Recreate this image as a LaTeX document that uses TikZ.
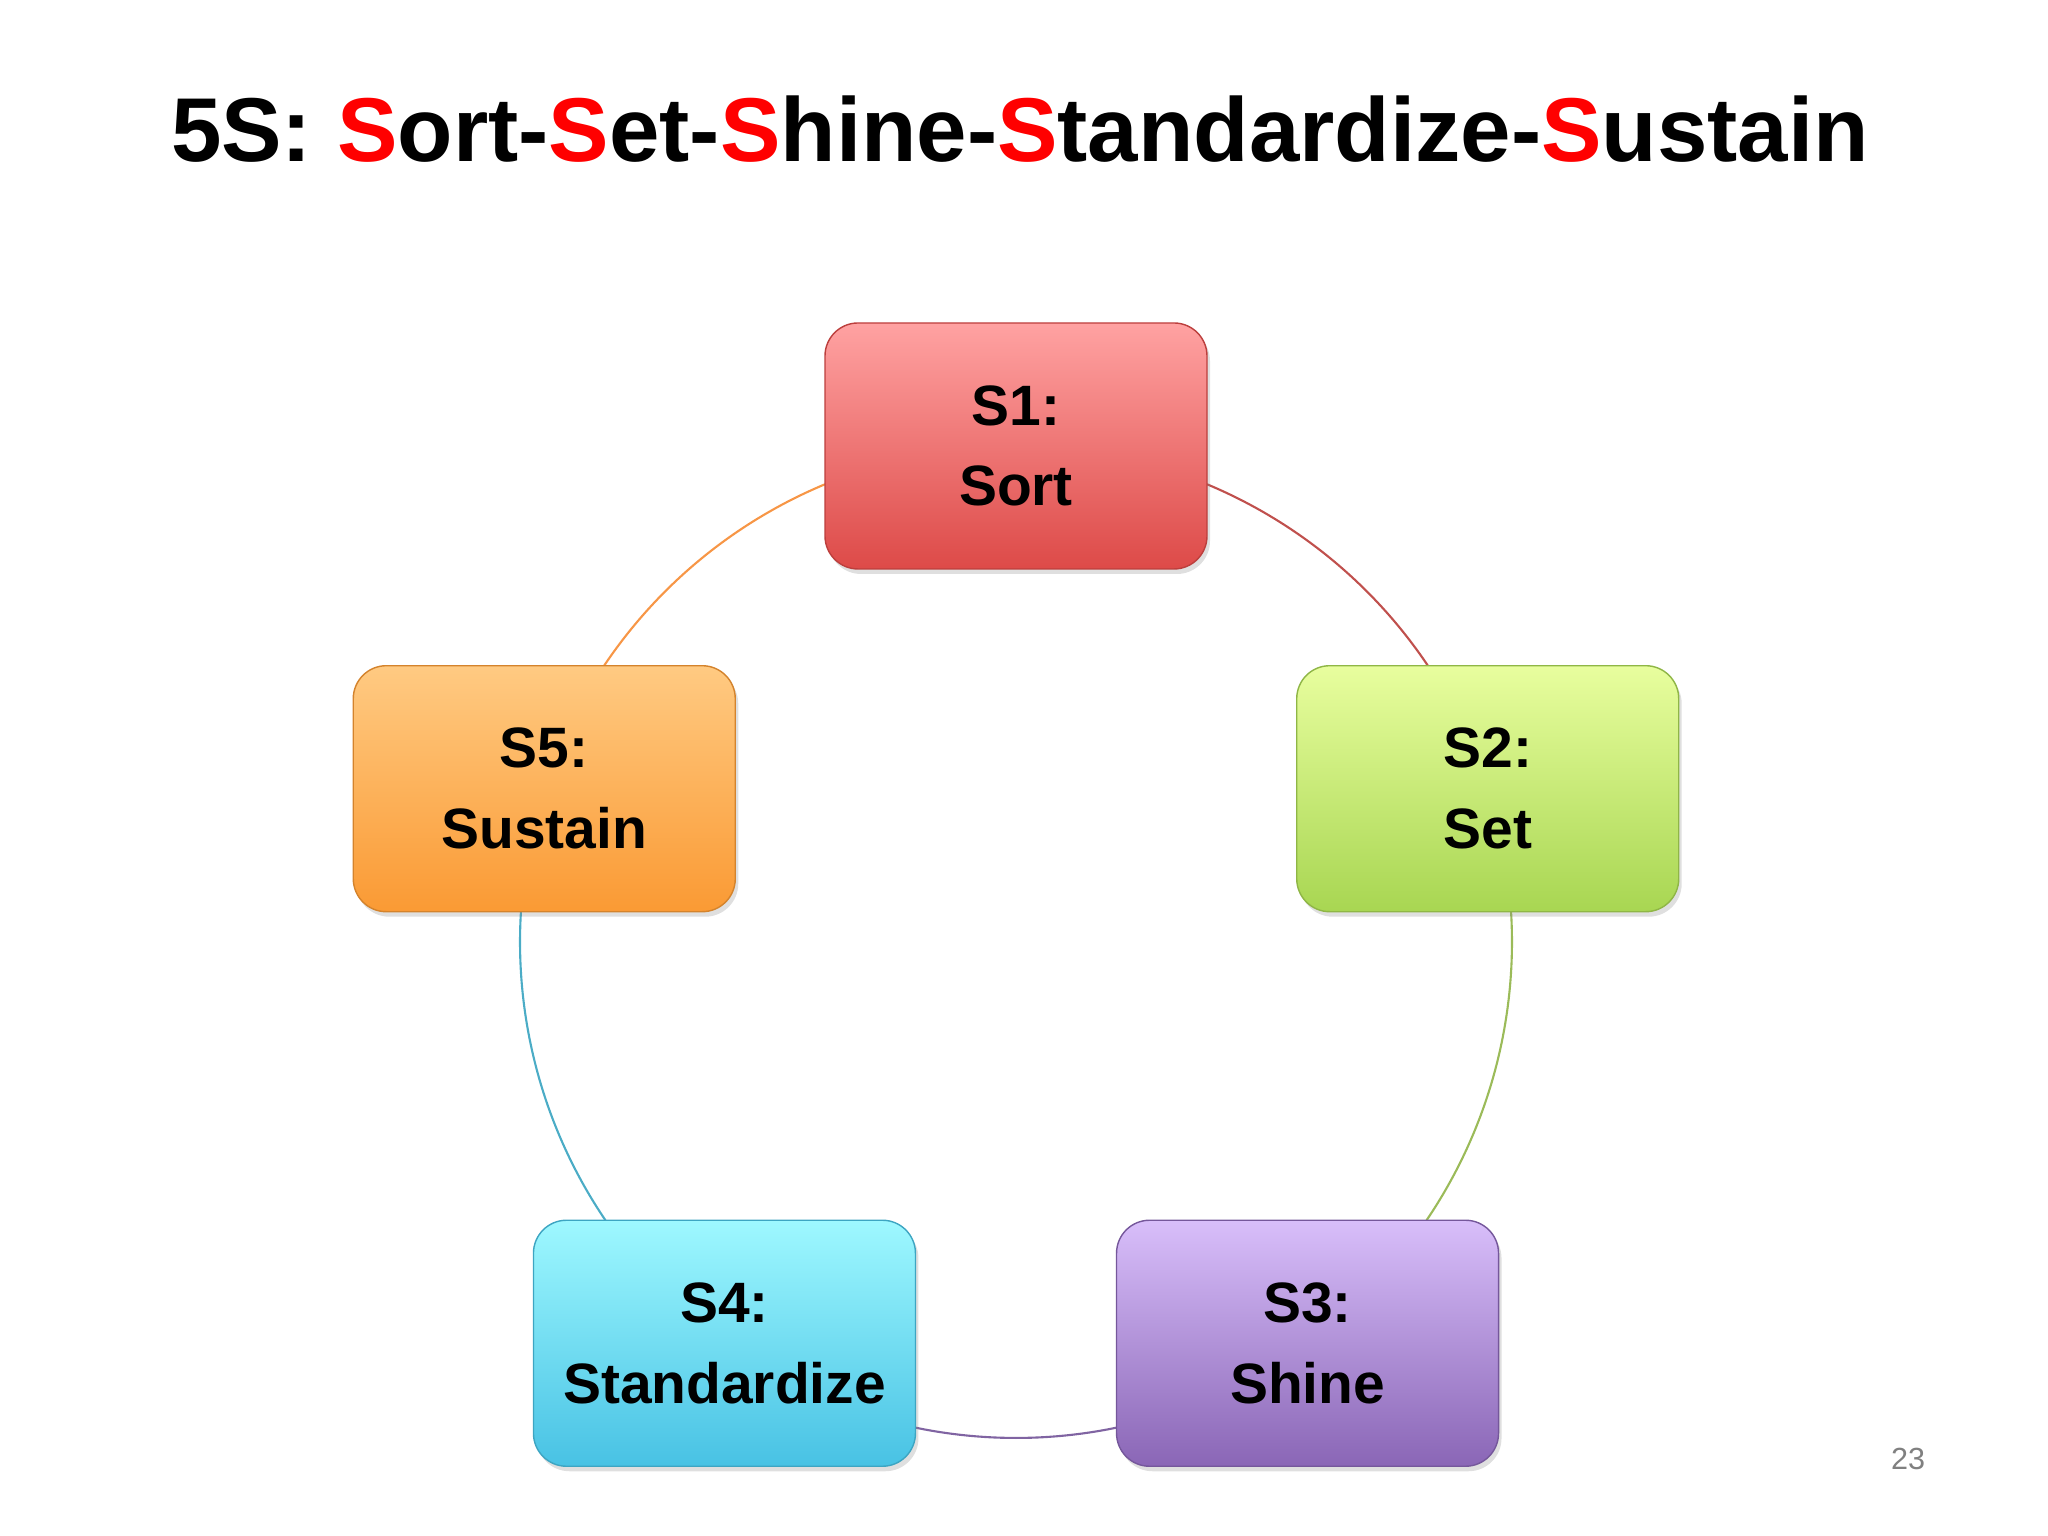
\documentclass[tikz,border=0pt]{standalone}
\usepackage{fontspec}
\setmainfont{Liberation Sans}
\usepackage{xcolor}
\usetikzlibrary{calc,shadows}
\definecolor{SortTop}{RGB}{255,162,162}
\definecolor{SortBottom}{RGB}{221,74,72}
\definecolor{SortLine}{RGB}{192,80,77}
\definecolor{SetTop}{RGB}{232,254,158}
\definecolor{SetBottom}{RGB}{168,214,82}
\definecolor{SetLine}{RGB}{155,187,89}
\definecolor{ShineTop}{RGB}{216,190,250}
\definecolor{ShineBottom}{RGB}{138,102,182}
\definecolor{ShineLine}{RGB}{128,100,162}
\definecolor{StandardTop}{RGB}{158,248,255}
\definecolor{StandardBottom}{RGB}{72,194,228}
\definecolor{StandardLine}{RGB}{75,172,198}
\definecolor{SustainTop}{RGB}{255,202,130}
\definecolor{SustainBottom}{RGB}{250,154,52}
\definecolor{SustainLine}{RGB}{247,150,70}
\definecolor{TitleRed}{RGB}{255,0,0}
\definecolor{PageGray}{RGB}{128,128,128}

\tikzset{
  sbox/.style={rectangle, rounded corners=0.33cm, minimum width=3.82cm,
    minimum height=2.46cm, align=center,
    font=\fontsize{16.2}{23}\selectfont\bfseries,
    draw=#1Bottom!85!black, line width=0.4pt,
    top color=#1Top, bottom color=#1Bottom,
    drop shadow={opacity=0.25, shadow xshift=0.03cm, shadow yshift=-0.05cm}},
  ring/.style={line width=0.6pt, draw=#1Line}
}

\begin{document}
\begin{tikzpicture}
    \useasboundingbox (0,0) rectangle (20.48,15.36);

    \node[anchor=base, font=\fontsize{25.8}{30}\selectfont\bfseries] (title) at (10.20,13.74)
      {5S: \textcolor{TitleRed}{S}ort-\textcolor{TitleRed}{S}et-\textcolor{TitleRed}{S}hine-\textcolor{TitleRed}{S}tandardize-\textcolor{TitleRed}{S}ustain};

    \coordinate (center) at (10.16,5.94);
    \coordinate (a12) at ($(center)+(67.35:4.96)$);
    \coordinate (a23) at ($(center)+(3.50:4.96)$);
    \coordinate (a34) at ($(center)+(-78.31:4.96)$);
    \coordinate (a45) at ($(center)+(214.13:4.96)$);
    \coordinate (a51) at ($(center)+(146.14:4.96)$);

    \draw[ring=Sort] (a12) arc[start angle=67.35, end angle=33.86, radius=4.96];
    \draw[ring=Set] (a23) arc[start angle=3.50, end angle=-34.13, radius=4.96];
    \draw[ring=Shine] (a34) arc[start angle=-78.31, end angle=-101.69, radius=4.96];
    \draw[ring=Standard] (a45) arc[start angle=214.13, end angle=176.50, radius=4.96];
    \draw[ring=Sustain] (a51) arc[start angle=146.14, end angle=112.65, radius=4.96];

    \node[sbox=Sort] (s1) at ($(center)+(90:4.96)$) {S1:\\Sort};
    \node[sbox=Set] (s2) at ($(center)+(18:4.96)$) {S2:\\Set};
    \node[sbox=Shine] (s3) at ($(center)+(-54:4.96)$) {S3:\\Shine};
    \node[sbox=Standard] (s4) at ($(center)+(-126:4.96)$) {S4:\\Standardize};
    \node[sbox=Sustain] (s5) at ($(center)+(162:4.96)$) {S5:\\Sustain};

    \node[anchor=base, text=PageGray, font=\fontsize{8.7}{10}\selectfont] (page) at (19.08,0.66) {23};
\end{tikzpicture}
\end{document}
